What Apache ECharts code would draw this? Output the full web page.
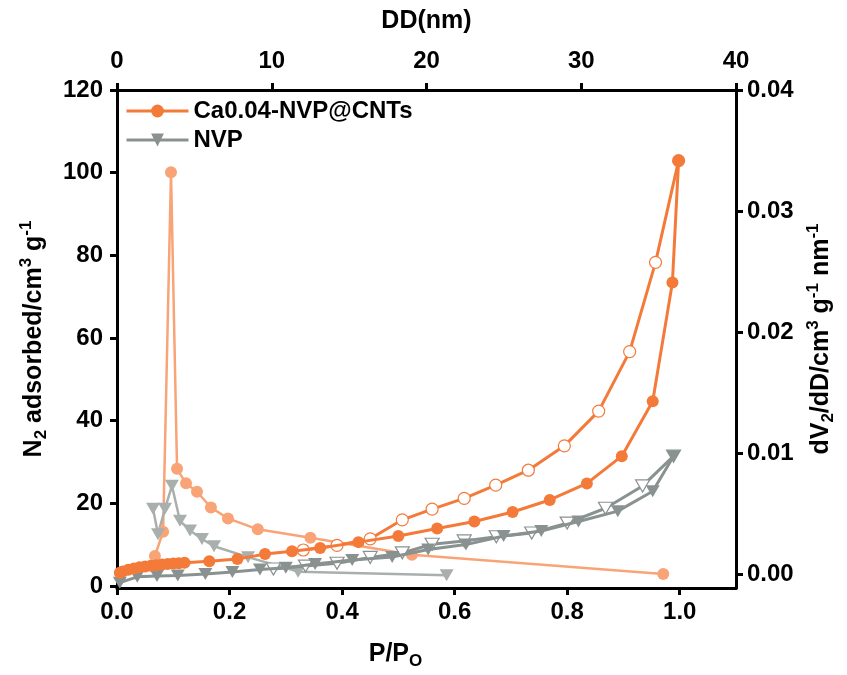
<!DOCTYPE html>
<html>
<head>
<meta charset="utf-8">
<script src="https://cdn.jsdelivr.net/npm/echarts@6/dist/echarts.min.js"></script>
<style>html,body{margin:0;padding:0;background:#fff;}#c{width:847px;height:675px;}</style>
</head>
<body>
<div id="c"></div>
<script>
// ---- data ----
// N2 isotherms: [P/P0, adsorbed volume cm3/g]
const caAds = [[0.005,3.2],[0.01,3.5],[0.02,3.9],[0.03,4.2],[0.04,4.5],[0.05,4.7],[0.06,4.9],[0.07,5.0],[0.08,5.2],[0.09,5.3],[0.10,5.4],[0.11,5.5],[0.12,5.6],[0.164,6.0],[0.214,6.5],[0.263,7.7],[0.311,8.4],[0.361,9.2],[0.429,10.6],[0.50,12.1],[0.569,13.9],[0.635,15.6],[0.703,17.9],[0.769,20.8],[0.835,24.8],[0.897,31.4],[0.952,44.7],[0.987,73.4],[0.998,102.9]];
const caDes = [[0.998,102.9],[0.957,78.3],[0.911,56.7],[0.856,42.3],[0.795,33.9],[0.731,28.0],[0.673,24.4],[0.617,21.2],[0.56,18.6],[0.507,16.0],[0.45,11.4],[0.391,9.8],[0.331,8.7]];
const nvpAds = [[0.005,0.8],[0.036,2.2],[0.071,2.4],[0.108,2.5],[0.157,2.9],[0.205,3.4],[0.254,4.0],[0.30,4.4],[0.352,5.3],[0.418,6.3],[0.489,7.0],[0.553,8.8],[0.62,10.0],[0.687,12.1],[0.754,13.3],[0.82,15.6],[0.89,18.1],[0.952,22.9],[0.989,31.4]];
const nvpDes = [[0.989,31.4],[0.934,24.2],[0.868,18.8],[0.80,15.2],[0.737,12.8],[0.674,11.9],[0.617,10.9],[0.56,10.1],[0.507,8.0],[0.45,6.9],[0.391,5.5],[0.335,4.8],[0.278,4.1]];
// pore size distribution: [DD nm, dV/dD]
const caPsd = [[2.45,0.0015],[2.98,0.0035],[3.49,0.0332],[3.88,0.0087],[4.46,0.0075],[5.17,0.0068],[6.07,0.0055],[7.17,0.0046],[9.1,0.0037],[12.5,0.0030],[19.06,0.0016],[35.3,0.0]];
const nvpPsd = [[2.33,0.0054],[2.65,0.0033],[3.1,0.0054],[3.55,0.0073],[4.07,0.0044],[4.72,0.0036],[5.49,0.0029],[6.27,0.0023],[8.47,0.0014],[11.7,0.0002],[21.3,-0.0001]];
// tick labels
const pTicks = [0, 0.2, 0.4, 0.6, 0.8, 1.0];
const ddTicks = [0, 10, 20, 30, 40];
const vTicks = [0, 20, 40, 60, 80, 100, 120];
const dvTicks = [0, 0.01, 0.02, 0.03, 0.04];

const C_ORANGE = '#F47A3A', C_LORANGE = '#F8A477', C_GREY = '#899290', C_LGREY = '#A9AFAD';
const FONT = 'Liberation Sans, Arial, sans-serif';
const TRI = 'path://M0,0L20,0L10,17Z';
const LBL = 24;

const chart = echarts.init(document.getElementById('c'), null, {renderer: 'canvas'});

function axisBase(extra) {
  return Object.assign({
    type: 'value',
    axisLine: {show: true, onZero: false, lineStyle: {color: '#000', width: 3}},
    splitLine: {show: false},
    nameTextStyle: {color: '#000', fontWeight: 'bold', fontSize: 25, fontFamily: FONT}
  }, extra);
}
function tick(vals) {
  return {show: true, inside: false, length: 7, lineStyle: {color: '#000', width: 3}, customValues: vals};
}
function label(vals, margin, fmt) {
  const o = {color: '#000', fontWeight: 'bold', fontSize: LBL, fontFamily: FONT, margin: margin, customValues: vals};
  if (fmt) o.formatter = fmt;
  return o;
}
const richBase = {
  a: {fontSize: 25, fontWeight: 'bold', fontFamily: FONT, color: '#000', lineHeight: 32},
  s: {fontSize: 17, fontWeight: 'bold', fontFamily: FONT, color: '#000', lineHeight: 19, verticalAlign: 'bottom'},
  p: {fontSize: 17, fontWeight: 'bold', fontFamily: FONT, color: '#000', lineHeight: 19, verticalAlign: 'top'}
};

const option = {
  animation: false,
  backgroundColor: '#fff',
  grid: {left: 117, right: 111, top: 90, bottom: 86, containLabel: false},
  legend: {
    data: ['Ca0.04-NVP@CNTs', 'NVP'],
    orient: 'vertical', left: 125, top: 99, padding: 0,
    itemWidth: 62, itemHeight: 16, itemGap: 5,
    lineStyle: {width: 3},
    textStyle: {color: '#000', fontWeight: 'bold', fontSize: LBL, fontFamily: FONT}
  },
  xAxis: [
    axisBase({
      position: 'bottom', min: 0, max: 1.1,
      axisLabel: label(pTicks, 12, v => v.toFixed(1)),
      axisTick: tick(pTicks),
      name: '{a|P/P}{s|O}', nameLocation: 'middle', nameGap: 50,
      nameTextStyle: {rich: richBase, padding: [0, 62, 0, 0]}
    }),
    axisBase({
      position: 'top', min: 0, max: 40,
      axisLabel: label(ddTicks, 17),
      axisTick: tick(ddTicks),
      name: 'DD(nm)', nameLocation: 'middle', nameGap: 56
    })
  ],
  yAxis: [
    axisBase({
      position: 'left', min: -0.5, max: 120,
      axisLabel: label(vTicks, 14),
      axisTick: tick(vTicks),
      name: '{a|N}{s|2}{a| adsorbed/cm}{p|3}{a| g}{p|-1}', nameLocation: 'middle', nameRotate: 90, nameGap: 67,
      nameTextStyle: {rich: richBase}
    }),
    axisBase({
      position: 'right', min: -0.00115, max: 0.04,
      axisLabel: label(dvTicks, 11, v => v.toFixed(2)),
      axisTick: tick(dvTicks),
      name: '{a|dV}{s|2}{a|/dD/cm}{p|3}{a| g}{p|-1}{a| nm}{p|-1}', nameLocation: 'middle', nameRotate: 90, nameGap: 68,
      nameTextStyle: {rich: richBase}
    })
  ],
  series: [
    {name: 'Ca PSD', type: 'line', xAxisIndex: 1, yAxisIndex: 1, data: caPsd, z: 1,
      symbol: 'circle', symbolSize: 12, lineStyle: {color: C_LORANGE, width: 2.5}, itemStyle: {color: C_LORANGE}},
    {name: 'NVP PSD', type: 'line', xAxisIndex: 1, yAxisIndex: 1, data: nvpPsd, z: 1,
      symbol: TRI, symbolSize: [14, 12], lineStyle: {color: C_LGREY, width: 2.5}, itemStyle: {color: C_LGREY}},
    {name: 'NVP des', type: 'line', xAxisIndex: 0, yAxisIndex: 0, data: nvpDes, z: 2,
      symbol: TRI, symbolSize: [14, 12], lineStyle: {color: C_GREY, width: 3},
      itemStyle: {color: '#fff', borderColor: C_GREY, borderWidth: 1.2}},
    {name: 'NVP', type: 'line', xAxisIndex: 0, yAxisIndex: 0, data: nvpAds, z: 3,
      symbol: TRI, symbolSize: [14, 12], lineStyle: {color: C_GREY, width: 3}, itemStyle: {color: C_GREY}},
    {name: 'Ca des', type: 'line', xAxisIndex: 0, yAxisIndex: 0, data: caDes, z: 4,
      symbol: 'circle', symbolSize: 12, lineStyle: {color: C_ORANGE, width: 3},
      itemStyle: {color: '#fff', borderColor: C_ORANGE, borderWidth: 1.2}},
    {name: 'Ca0.04-NVP@CNTs', type: 'line', xAxisIndex: 0, yAxisIndex: 0, data: caAds, z: 5,
      symbol: 'circle', symbolSize: 12, lineStyle: {color: C_ORANGE, width: 3}, itemStyle: {color: C_ORANGE}}
  ]
};
chart.setOption(option);
</script>
</body>
</html>
